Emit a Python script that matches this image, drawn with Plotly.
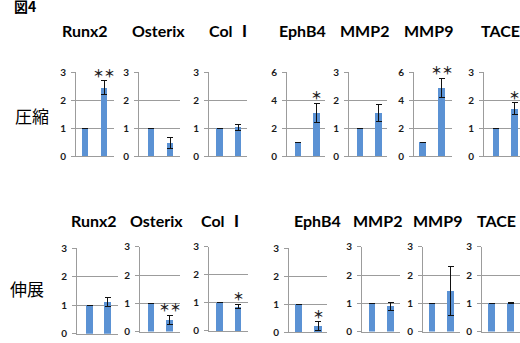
import plotly.graph_objects as go

# ---------------- data ----------------
genes = ["Runx2", "Osterix", "Col Ⅰ", "EphB4", "MMP2", "MMP9", "TACE"]
control = [1, 1, 1, 1, 1, 1, 1]

comp_vals = [2.45, 0.48, 1.03, 3.1, 1.55, 4.9, 1.7]
comp_err = [0.25, 0.2, 0.1, 0.7, 0.3, 0.68, 0.22]
comp_ymax = [3, 3, 3, 6, 3, 6, 3]
comp_sig = ["＊＊", "", "", "＊", "", "＊＊", "＊"]

stre_vals = [1.13, 0.41, 0.87, 0.23, 0.9, 1.44, 1.0]
stre_err = [0.16, 0.17, 0.08, 0.16, 0.14, 0.86, 0.02]
stre_ymax = [3, 3, 3, 3, 3, 3, 3]
stre_sig = ["", "＊＊", "＊", "＊", "", "", ""]

row_labels = ["圧縮", "伸展"]
fig_label = "図4"

# ---------------- layout geometry (pixels) ----------------
W, H = 520, 343
# left, right, bar1 centre, bar2 centre, y of top (ymax), y of 0
top_geom = [
    (76, 114, 85, 104, 68, 155),
    (139, 180, 151, 170, 68, 155),
    (209, 247, 219.5, 238, 68, 155),
    (287, 325, 298, 316.5, 68, 155),
    (349, 387, 360, 378.5, 68, 155),
    (414, 452, 422.5, 441.5, 68, 155),
    (484, 520, 496, 514.5, 68, 155),
]
bot_geom = [
    (77, 118, 89.5, 107.5, 251, 339.5),
    (140, 180, 151, 169.5, 249.3, 337.3),
    (209, 248, 219.5, 238, 249.3, 336.7),
    (289, 327, 298.5, 318, 251, 338.3),
    (362, 400, 372, 390.5, 249.3, 337.3),
    (423, 460, 432, 450.5, 249.3, 337.3),
    (482, 520, 491.5, 510.5, 249.3, 337.3),
]
top_title_x = [85, 158, 230, 302, 364, 428, 500]
top_title_y = 24
bot_title_x = [94, 156, 222, 317, 377, 437, 496]
bot_title_y = 222

BAR_COLOR = "#5b92d4"
GRID = "#9c9c9c"

fig = go.Figure()
layout = dict(
    width=W, height=H, margin=dict(l=0, r=0, t=0, b=0),
    paper_bgcolor="white", plot_bgcolor="white", showlegend=False,
    bargap=0,
)
annotations = []


def add_panel(k, geom, val, err, ymax, sig):
    left, right, c1, c2, ytop, ybot = geom
    s = c2 - c1
    xr = [(left - c1) / s, (right - c1) / s]
    xa = "x" if k == 1 else f"x{k}"
    ya = "y" if k == 1 else f"y{k}"
    fig.add_trace(go.Bar(
        x=[0, 1], y=[control[0], val], width=0.36,
        marker=dict(color=BAR_COLOR, line=dict(width=0)),
        error_y=dict(type="data", array=[0, err], color="#111111",
                     thickness=1, width=3),
        xaxis=xa, yaxis=ya, hoverinfo="skip",
    ))
    dtick = 1 if ymax == 3 else 2
    layout[f"xaxis{k}"] = dict(
        domain=[left / W, min(right / W, 1)], range=xr, anchor=ya,
        showline=True, linecolor=GRID, linewidth=1, showgrid=False,
        showticklabels=False, ticks="", zeroline=False, fixedrange=True,
    )
    layout[f"yaxis{k}"] = dict(
        domain=[1 - ybot / H, 1 - ytop / H], range=[0, ymax], anchor=xa,
        tickvals=list(range(0, ymax + 1, dtick)),
        showgrid=True, gridcolor=GRID, gridwidth=1,
        showline=True, linecolor=GRID, linewidth=1,
        ticks="outside", ticklen=4, tickcolor=GRID, tickwidth=1,
        ticklabelstandoff=3,
        tickfont=dict(family="Lato", size=10, color="#1a1a1a", weight="bold"),
        zeroline=False, fixedrange=True,
    )
    if sig:
        annotations.append(dict(
            x=1, y=val + err, xref=xa, yref=ya, text=sig, showarrow=False,
            yanchor="middle", yshift=8, xanchor="center",
            font=dict(family="Noto Sans CJK JP", size=11, color="#222222",
                      weight="bold"),
        ))


for i in range(7):
    add_panel(i + 1, top_geom[i], comp_vals[i], comp_err[i], comp_ymax[i], comp_sig[i])
for i in range(7):
    add_panel(i + 8, bot_geom[i], stre_vals[i], stre_err[i], stre_ymax[i], stre_sig[i])

title_font = dict(family="Lato, Noto Sans CJK JP", size=16, color="black", weight="bold")
for i, g in enumerate(genes):
    annotations.append(dict(x=top_title_x[i] / W, y=1 - top_title_y / H, xref="paper",
                            yref="paper", text=g, showarrow=False, xanchor="center",
                            yanchor="middle", font=title_font))
    annotations.append(dict(x=bot_title_x[i] / W, y=1 - bot_title_y / H, xref="paper",
                            yref="paper", text=g, showarrow=False, xanchor="center",
                            yanchor="middle", font=title_font))

row_font = dict(family="Noto Sans CJK JP", size=17, color="black")
annotations.append(dict(x=32 / W, y=1 - 113 / H, xref="paper", yref="paper",
                        text=row_labels[0], showarrow=False, xanchor="center",
                        yanchor="middle", font=row_font))
annotations.append(dict(x=27 / W, y=1 - 293 / H, xref="paper", yref="paper",
                        text=row_labels[1], showarrow=False, xanchor="center",
                        yanchor="middle", font=row_font))
annotations.append(dict(x=25 / W, y=1 - 1 / H, xref="paper", yref="paper",
                        text=fig_label, showarrow=False, xanchor="center",
                        yanchor="middle", yshift=2,
                        font=dict(family="Noto Sans CJK JP", size=14, color="black",
                                  weight="bold")))

layout["annotations"] = annotations
fig.update_layout(**layout)

fig.write_html("out.html", config={"displayModeBar": False, "staticPlot": True},
               post_script="document.body.style.margin='0';")
